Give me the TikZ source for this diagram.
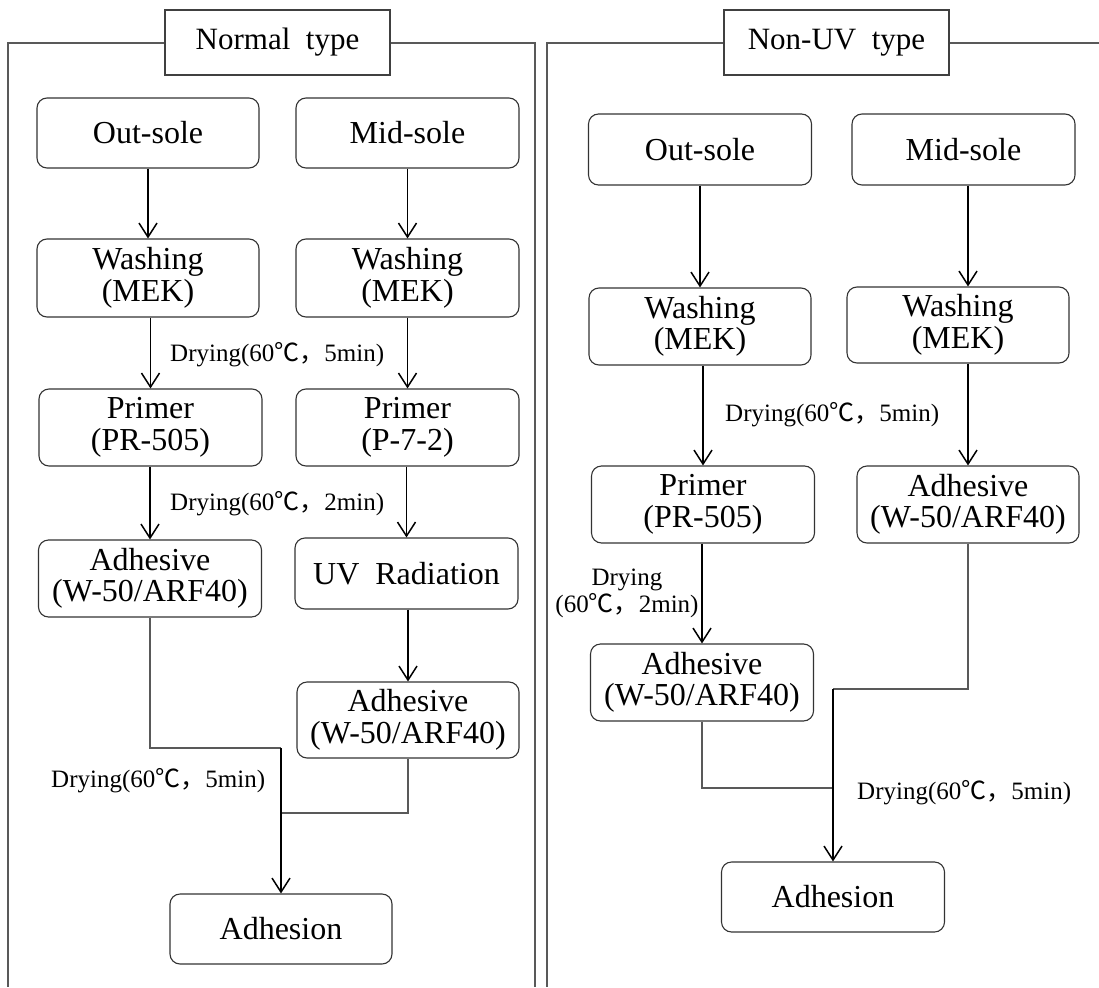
\documentclass[tikz,border=0pt]{standalone}
\usepackage{fontspec}
\setmainfont{Liberation Serif}
\newfontfamily\cjk{Noto Sans CJK SC}
\usetikzlibrary{arrows.meta,calc}
\newcommand{\dgc}{{\cjk ℃，}}
\begin{document}
\begin{tikzpicture}[x=1pt,y=-1pt,
  box/.style={draw=black!80, line width=1.1pt, rounded corners=10pt, align=center,
    inner sep=0pt, font=\fontsize{32}{31.5}\selectfont},
  ttl/.style={draw=black!75, line width=1.1pt, fill=white, inner sep=0pt,
    minimum width=225pt, minimum height=65pt, font=\fontsize{31}{31}\selectfont},
  arr/.style={draw=black, line width=1.5pt, -{Straight Barb[length=14pt,width=18pt]}},
  mline/.style={draw=black!65, line width=1.2pt},
  frame/.style={draw=black!65, line width=1.3pt},
  lbl/.style={font=\fontsize{25}{27}\selectfont, inner sep=0pt, align=center}]
\useasboundingbox (0,0) rectangle (1099,987);

% ---------- left panel ----------
\node[ttl] (tl) at (277.5,42.5) {Normal\ \ type};
\draw[frame] (tl.west |- 0,43) -- (8,43) -- (8,987);
\draw[frame] (tl.east |- 0,43) -- (535,43) -- (535,987);

\node[box, minimum width=222pt, minimum height=70pt] (lo) at (148,133) {Out-sole};
\node[box, minimum width=223pt, minimum height=70pt] (lm) at (407.5,133) {Mid-sole};
\node[box, minimum width=222pt, minimum height=78pt] (lw1) at (148,278) {Washing\\(MEK)};
\node[box, minimum width=223pt, minimum height=78pt] (lw2) at (407.5,278) {Washing\\(MEK)};
\node[box, minimum width=223pt, minimum height=77pt] (lp1) at (150.5,427.5) {Primer\\(PR-505)};
\node[box, minimum width=223pt, minimum height=77pt] (lp2) at (407.5,427.5) {Primer\\(P-7-2)};
\node[box, minimum width=223pt, minimum height=77pt] (la1) at (150,578.5) {Adhesive\\(W-50/ARF40)};
\node[box, minimum width=223pt, minimum height=71pt] (luv) at (406.5,573.5) {UV\ \ Radiation};
\node[box, minimum width=222pt, minimum height=76pt] (la2) at (408,720) {Adhesive\\(W-50/ARF40)};
\node[box, minimum width=222pt, minimum height=70pt] (lad) at (281,929) {Adhesion};

\draw[arr] (lo.south) -- (lw1.north);
\draw[arr] (lm.south) -- (lw2.north);
\draw[arr] (lp1.north |- lw1.south) -- (lp1.north);
\draw[arr] (lw2.south) -- (lp2.north);
\draw[arr] (la1.north |- lp1.south) -- (la1.north);
\draw[arr] (luv.north |- lp2.south) -- (luv.north);
\draw[arr] (la2.north |- luv.south) -- (la2.north);

\coordinate (jl) at (281,748);
\coordinate (jr) at (281,813);
\draw[mline] (la1.south) |- (jl);
\draw[mline] (la2.south) |- (jr);
\draw[arr] (jl) -- (lad.north);

\node[lbl, anchor=west] (ld1) at (170,355) {Drying(60\dgc 5min)};
\node[lbl, anchor=west] (ld2) at (170,504) {Drying(60\dgc 2min)};
\node[lbl, anchor=west] (ld3) at (51,781) {Drying(60\dgc 5min)};

% ---------- right panel ----------
\node[ttl] (tr) at (836.5,42.5) {Non-UV\ \ type};
\draw[frame] (tr.west |- 0,43) -- (547,43) -- (547,987);
\draw[frame] (tr.east |- 0,43) -- (1099,43);

\node[box, minimum width=223pt, minimum height=71pt] (ro) at (700,149.5) {Out-sole};
\node[box, minimum width=223pt, minimum height=71pt] (rm) at (963.5,149.5) {Mid-sole};
\node[box, minimum width=222pt, minimum height=77pt] (rw1) at (700,326.5) {Washing\\(MEK)};
\node[box, minimum width=222pt, minimum height=76pt] (rw2) at (958,325) {Washing\\(MEK)};
\node[box, minimum width=223pt, minimum height=77pt] (rp1) at (703,504.5) {Primer\\(PR-505)};
\node[box, minimum width=222pt, minimum height=77pt] (ra2) at (968,504.5) {Adhesive\\(W-50/ARF40)};
\node[box, minimum width=223pt, minimum height=77pt] (ra1) at (702,682.5) {Adhesive\\(W-50/ARF40)};
\node[box, minimum width=223pt, minimum height=70pt] (rad) at (833,897) {Adhesion};

\draw[arr] (ro.south) -- (rw1.north);
\draw[arr] (ra2.north |- rm.south) -- (ra2.north |- rw2.north);
\draw[arr] (rp1.north |- rw1.south) -- (rp1.north);
\draw[arr] (ra2.north |- rw2.south) -- (ra2.north);
\draw[arr] (ra1.north |- rp1.south) -- (ra1.north);

\coordinate (kr) at (833,689);
\coordinate (kl) at (833,788);
\draw[mline] (ra2.south) |- (kr);
\draw[mline] (ra1.south) |- (kl);
\draw[arr] (kr) -- (rad.north);

\node[lbl, anchor=west] (rd1) at (725,415) {Drying(60\dgc 5min)};
\node[lbl] (rd2) at (627,593.5) {Drying\\(60\dgc 2min)};
\node[lbl, anchor=west] (rd3) at (857,793) {Drying(60\dgc 5min)};
\end{tikzpicture}
\end{document}
